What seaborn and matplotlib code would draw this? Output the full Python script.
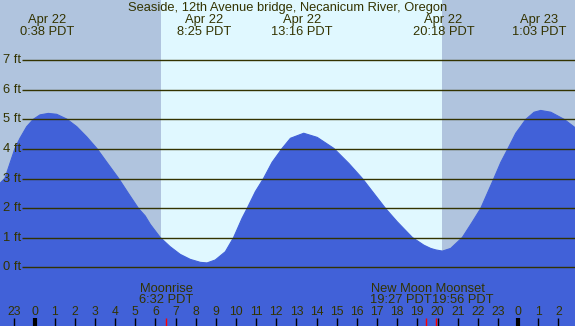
import numpy as np
import pandas as pd
import matplotlib
matplotlib.use("Agg")
import matplotlib.pyplot as plt
import seaborn as sns

# ---- data (hours relative to Apr 22 00:00 PDT, heights in ft) ----
hours = [-1.715, -1.466, -0.969, -0.721, -0.39, -0.06, 0.273, 0.686, 1.10, 1.60,
         2.10, 2.59, 3.09, 3.59, 4.17, 4.66, 5.16, 5.49, 5.75, 6.24, 6.73, 7.23,
         7.73, 8.23, 8.56, 8.97, 9.47, 9.88, 10.30, 10.55, 10.96, 11.37, 11.79,
         12.29, 12.70, 13.36, 14.03, 14.85, 15.60, 16.26, 16.84, 17.42, 18.0,
         18.75, 19.32, 19.66, 19.91, 20.24, 20.65, 21.23, 21.73, 22.14, 22.47,
         22.80, 23.14, 23.50, 23.88, 24.38, 24.79, 25.12, 25.62, 26.28, 26.86]
heights = [2.84, 3.01, 4.02, 4.36, 4.75, 5.0, 5.15, 5.2, 5.17, 5.01,
           4.75, 4.41, 4.02, 3.55, 3.01, 2.5, 1.99, 1.74, 1.45, 1.01, 0.70, 0.44,
           0.27, 0.17, 0.15, 0.25, 0.53, 1.01, 1.66, 1.99, 2.56, 3.01, 3.55,
           4.02, 4.36, 4.53, 4.39, 4.02, 3.51, 3.01, 2.5, 1.99, 1.54,
           1.01, 0.75, 0.64, 0.59, 0.55, 0.64, 1.01, 1.54, 1.99, 2.50,
           3.01, 3.55, 4.02, 4.53, 5.0, 5.24, 5.30, 5.24, 5.0, 4.70]

event_hours = [0.633, 8.417, 13.267, 20.3, 25.05]
event_dates = ["Apr 22", "Apr 22", "Apr 22", "Apr 22", "Apr 23"]
event_times = ["0:38 PDT", "8:25 PDT", "13:16 PDT", "20:18 PDT", "1:03 PDT"]

sunrise, sunset = 6.29, 20.2

moon_hours = [6.533, 19.45, 19.933]
moon_names = ["Moonrise", "New Moon", "Moonset"]
moon_times = ["6:32 PDT", "19:27 PDT", "19:56 PDT"]

tick_hours = list(range(-1, 27))
tick_labels = [str(h % 24) for h in tick_hours]

grid_levels = [0, 1, 2, 3, 4, 5, 6, 7]
grid_labels = [f"{v} ft" for v in grid_levels]

title = "Seaside, 12th Avenue bridge, Necanicum River, Oregon"

# ---- style ----
NIGHT = "#B0C4DE"
DAY = "#E0F8FF"
WATER = "#4161D8"
INK = "#333300"

sns.set_style("white")
plt.rcParams["font.family"] = ["Liberation Sans", "DejaVu Sans"]

XMIN, XMAX = -1.712, 26.82
YMIN, YMAX = -1.98, 9.03
FS = 9.3

fig = plt.figure(figsize=(5.75, 3.26), dpi=100)
ax = fig.add_axes([0, 0, 1, 1])
ax.set_xlim(XMIN, XMAX)
ax.set_ylim(YMIN, YMAX)
ax.axis("off")

ax.axvspan(XMIN, XMAX, color=DAY, zorder=0)
ax.axvspan(XMIN, sunrise, color=NIGHT, zorder=0.5, lw=0)
ax.axvspan(sunset, XMAX, color=NIGHT, zorder=0.5, lw=0)

df = pd.DataFrame({"hour": hours, "height": heights})
ax.fill_between(df["hour"], df["height"], YMIN, color=WATER, lw=0, zorder=1)
sns.lineplot(data=df, x="hour", y="height", ax=ax, color=WATER, lw=0.8, zorder=1.2,
             legend=False)

# grid lines + labels
for v, lab in zip(grid_levels, grid_labels):
    ax.hlines(v, -0.62, XMAX, color=INK, lw=1, zorder=2)
    ax.text(-1.57, v, lab, ha="left", va="center", color=INK, fontsize=FS, zorder=3)

# title and event labels
ax.text(12.55, 8.77, title, ha="center", va="center", color=INK, fontsize=FS)
for h, d, t in zip(event_hours, event_dates, event_times):
    ax.text(h, 8.36, d, ha="center", va="center", color=INK, fontsize=FS)
    ax.text(h, 7.95, t, ha="center", va="center", color=INK, fontsize=FS)

# hour ticks
for h, lab in zip(tick_hours, tick_labels):
    ax.text(h, -1.50, lab, ha="center", va="center", color=INK, fontsize=8.7)
    if h % 24 == 0:
        ax.vlines(h, YMIN, -1.72, color="black", lw=3, zorder=3)
    else:
        ax.vlines(h, YMIN, -1.72, color="black", lw=1, zorder=3)

# moon events
for h in moon_hours:
    ax.vlines(h, YMIN, -1.72, color="red", lw=1, zorder=4)
ax.text(moon_hours[0], -0.72, moon_names[0], ha="center", va="center", color=INK, fontsize=FS)
ax.text(moon_hours[0], -1.09, moon_times[0], ha="center", va="center", color=INK, fontsize=FS)
ax.text(19.71, -0.72, moon_names[1], ha="right", va="center", color=INK, fontsize=FS)
ax.text(19.71, -1.09, moon_times[1], ha="right", va="center", color=INK, fontsize=FS)
ax.text(19.71, -0.72, " " + moon_names[2], ha="left", va="center", color=INK, fontsize=FS)
ax.text(19.71, -1.09, moon_times[2], ha="left", va="center", color=INK, fontsize=FS)

fig.savefig("out.png", dpi=100)
